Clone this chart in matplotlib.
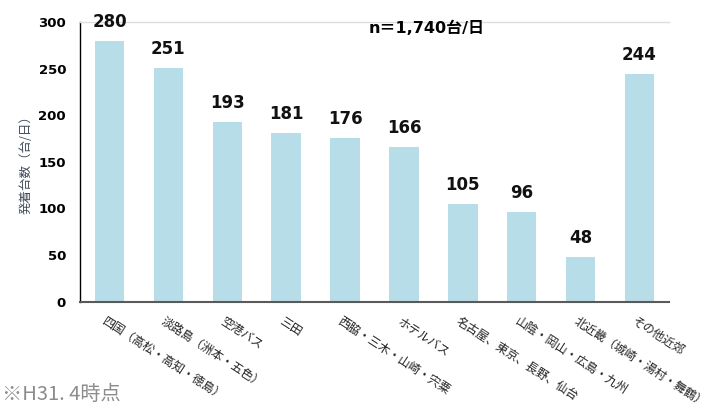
import matplotlib
matplotlib.use("Agg")
import matplotlib.pyplot as plt
import numpy as np

categories = [
    "四国（高松・高知・徳島）",
    "淡路島（洲本・五色）",
    "空港バス",
    "三田",
    "西脇・三木・山崎・宍粟",
    "ホテルバス",
    "名古屋、東京、長野、仙台",
    "山陰・岡山・広島・九州",
    "北近畿（城崎・湯村・舞鶴）",
    "その他近郊",
]
values = [280, 251, 193, 181, 176, 166, 105, 96, 48, 244]
yticks = [0, 50, 100, 150, 200, 250, 300]

jp = ["Noto Sans CJK JP", "DejaVu Sans"]
num = ["DejaVu Sans", "Noto Sans CJK JP"]

fig = plt.figure(figsize=(7.22, 4.11), dpi=100)
ax = fig.add_axes([0.1108, 0.266, 0.8158, 0.6805])

x = np.arange(len(categories))
ax.bar(x, values, width=0.5, color="#b7dde8")
ax.set_xlim(-0.5, len(categories) - 0.5)
ax.set_ylim(0, 300)

for xi, v in zip(x, values):
    ax.annotate(str(v), (xi, v), xytext=(0, 7), textcoords="offset points",
                ha="center", va="bottom", fontsize=12, fontweight="bold",
                family=num, color="#111111")

ax.set_yticks(yticks)
ax.set_yticklabels([str(t) for t in yticks], fontsize=9.5, fontweight="bold", family=num)
ax.tick_params(axis="y", length=0, pad=10)
ax.set_xticks(x)
ax.set_xticklabels([])
ax.tick_params(axis="x", length=0)

for xi, c in zip(x, categories):
    ax.text(xi - 0.1, -20, c, rotation=-33, rotation_mode="anchor",
            ha="left", va="center", fontsize=8.6, family=jp, color="#222222")

ax.spines["right"].set_visible(False)
ax.spines["top"].set_color("#dddddd")
ax.spines["top"].set_linewidth(1.0)
ax.spines["left"].set_color("#000000")
ax.spines["left"].set_linewidth(1.0)
ax.spines["bottom"].set_color("#5a5a5a")
ax.spines["bottom"].set_linewidth(1.5)

ax.set_ylabel("発着台数（台/日）", family=jp, fontsize=9, color="#404a5a", labelpad=4)

fig.text(0.51, 0.93, "n＝1,740台/日", family=num, fontsize=11.5, fontweight="bold",
         ha="left", va="center")
fig.text(0.003, 0.04, "※H31. 4時点", family=jp, fontsize=14.5, color="#8c8c8c",
         ha="left", va="center")

fig.savefig("out.png", dpi=100)
